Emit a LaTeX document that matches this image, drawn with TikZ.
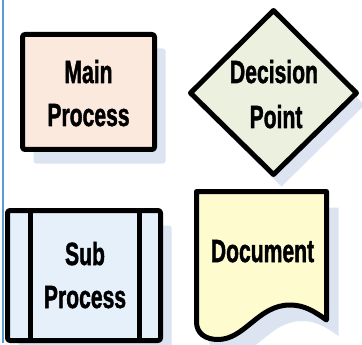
\documentclass[tikz,border=0pt]{standalone}
\usepackage{fontspec}
\setmainfont{Liberation Sans}
\newfontfamily\lblfont[FakeBold=1.8]{Liberation Sans Bold}
\usepackage{graphicx}
\definecolor{mainfill}{HTML}{FBE9DE}
\definecolor{decfill}{HTML}{EBF0DF}
\definecolor{subfill}{HTML}{E6F0FB}
\definecolor{docfill}{HTML}{FEFBCF}
\definecolor{shadowc}{HTML}{DCE4F2}
\definecolor{edgeblue}{HTML}{5B9BD5}
\newcommand\narrowtxt[1]{\scalebox{0.66}[1]{#1}}
\tikzset{
  shapeline/.style={draw=black, line width=5pt, line join=round},
  shadowshape/.style={fill=shadowc},
  lbl/.style={font=\fontsize{32}{38}\selectfont\lblfont, inner sep=0pt, anchor=base}
}
\begin{document}
\begin{tikzpicture}[x=1pt,y=-1pt]
\useasboundingbox (0,0) rectangle (362,345);
\fill[white] (0,0) rectangle (362,345);
% left edge line
\coordinate (ltop) at (3,0);
\coordinate (lbot) at (3,343);
\draw[edgeblue, line width=2.2pt] (ltop) -- (lbot);
% shadows
\fill[shadowshape, rounded corners=2.5pt] (33.5,48.5) rectangle (165.5,163.5);
\fill[shadowshape] (281.5,22.5) -- (364.5,105) -- (281.5,186.5) -- (198.5,105) -- cycle;
\fill[shadowshape, rounded corners=2.5pt] (18.5,225.5) rectangle (171.5,355.5);
\begin{scope}[shift={(12,16)}]
\fill[shadowshape] (196.5,191.5) -- (326.5,191.5) -- (326.5,320)
  .. controls (315,312) and (305,305) .. (290,305)
  .. controls (258,305) and (245,339.5) .. (218,339.5)
  .. controls (205,339.5) and (196.5,333) .. (196.5,322) -- cycle;
\end{scope}
% main process
\draw[shapeline, rounded corners=2.5pt, fill=mainfill] (22.5,34.5) rectangle (154.5,149.5);
\node[lbl] (m1) at (88.5,83) {\narrowtxt{Main}};
\node[lbl] (m2) at (88.5,126) {\narrowtxt{Process}};
% decision
\draw[shapeline, fill=decfill] (273.5,10.5) -- (356.5,93) -- (273.5,174.5) -- (190.5,93) -- cycle;
\node[lbl] (d1) at (274,83) {\narrowtxt{Decision}};
\node[lbl] (d2) at (276,128) {\narrowtxt{Point}};
% sub process
\draw[shapeline, rounded corners=2.5pt, fill=subfill] (7.5,210.5) rectangle (160.5,340.5);
\coordinate (s1t) at (30.5,210.5);
\coordinate (s1b) at (30.5,340.5);
\coordinate (s2t) at (139.5,210.5);
\coordinate (s2b) at (139.5,340.5);
\draw[shapeline] (s1t) -- (s1b);
\draw[shapeline] (s2t) -- (s2b);
\node[lbl] (s1) at (85,265) {\narrowtxt{Sub}};
\node[lbl] (s2) at (85,308) {\narrowtxt{Process}};
% document
\draw[shapeline, fill=docfill] (196.5,191.5) -- (326.5,191.5) -- (326.5,320)
  .. controls (315,312) and (305,305) .. (290,305)
  .. controls (258,305) and (245,339.5) .. (218,339.5)
  .. controls (205,339.5) and (196.5,333) .. (196.5,322) -- cycle;
\node[lbl] (doc) at (262.5,262) {\narrowtxt{Document}};
\end{tikzpicture}
\end{document}
